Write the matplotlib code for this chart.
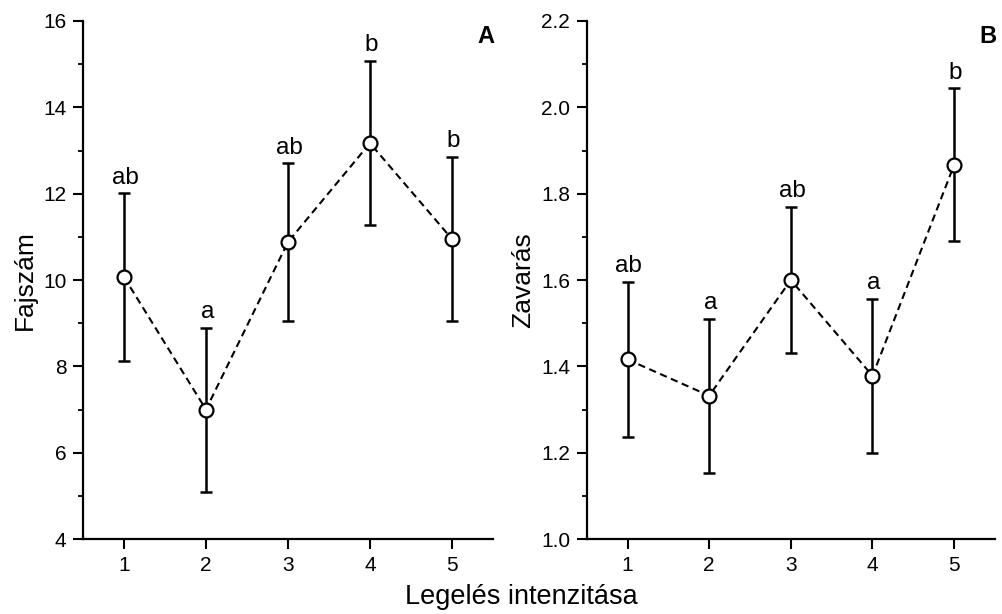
import matplotlib
matplotlib.use("Agg")
import matplotlib.pyplot as plt
from matplotlib.ticker import MultipleLocator, FormatStrFormatter

plt.rcParams['font.family'] = ['Liberation Sans', 'DejaVu Sans']

intensity = [1, 2, 3, 4, 5]

# Panel A: species number
species_mean = [10.07, 7.0, 10.88, 13.17, 10.95]
species_err = [1.94, 1.9, 1.82, 1.9, 1.9]
species_letters = ["ab", "a", "ab", "b", "b"]

# Panel B: disturbance
disturb_mean = [1.416, 1.332, 1.60, 1.378, 1.867]
disturb_err = [0.18, 0.178, 0.17, 0.179, 0.177]
disturb_letters = ["ab", "a", "ab", "a", "b"]

fig = plt.figure(figsize=(10.02, 6.14), dpi=100)
axA = fig.add_axes([0.0828, 0.1221, 0.4092, 0.8437])
axB = fig.add_axes([0.5855, 0.1221, 0.4075, 0.8437])


def draw_panel(ax, means, errs, letters, ylim, major, minor, fmt, ylabel):
    ax.plot(intensity, means, linestyle=(0, (3.5, 2.2)), color='black', lw=1.5, zorder=2)
    ax.errorbar(intensity, means, yerr=errs, fmt='none', ecolor='black',
                elinewidth=1.8, capsize=4.3, capthick=1.8, zorder=3)
    ax.plot(intensity, means, 'o', markersize=10, markerfacecolor='white',
            markeredgecolor='black', markeredgewidth=1.6, linestyle='none', zorder=4)
    for x, m, e, t in zip(intensity, means, errs, letters):
        ax.annotate(t, (x, m + e), xytext=(1, 7), textcoords='offset points',
                    ha='center', va='baseline', fontsize=17.5)
    ax.set_xlim(0.5, 5.5)
    ax.set_ylim(*ylim)
    ax.set_xticks(intensity)
    ax.yaxis.set_major_locator(MultipleLocator(major))
    ax.yaxis.set_minor_locator(MultipleLocator(minor))
    ax.yaxis.set_major_formatter(FormatStrFormatter(fmt))
    for s in ['top', 'right']:
        ax.spines[s].set_visible(False)
    for s in ['left', 'bottom']:
        ax.spines[s].set_linewidth(1.6)
    ax.tick_params(axis='both', which='major', direction='out', length=7,
                   width=1.5, labelsize=15, pad=5)
    ax.tick_params(axis='y', which='minor', direction='out', length=3.5, width=1.3)
    ax.tick_params(axis='x', which='minor', bottom=False)
    ax.set_ylabel(ylabel, fontsize=19, labelpad=4)


draw_panel(axA, species_mean, species_err, species_letters, (4, 16), 2, 1, '%d',
           'Fajszám')
draw_panel(axB, disturb_mean, disturb_err, disturb_letters, (1.0, 2.2), 0.2, 0.1, '%.1f',
           'Zavarás')

fig.text(0.485, 0.941, 'A', fontsize=17, fontweight='bold', ha='center', va='center')
fig.text(0.986, 0.941, 'B', fontsize=17, fontweight='bold', ha='center', va='center')
fig.text(0.52, 0.027, 'Legelés intenzitása', fontsize=19.5, ha='center', va='center')

fig.savefig('out.png', dpi=100)
